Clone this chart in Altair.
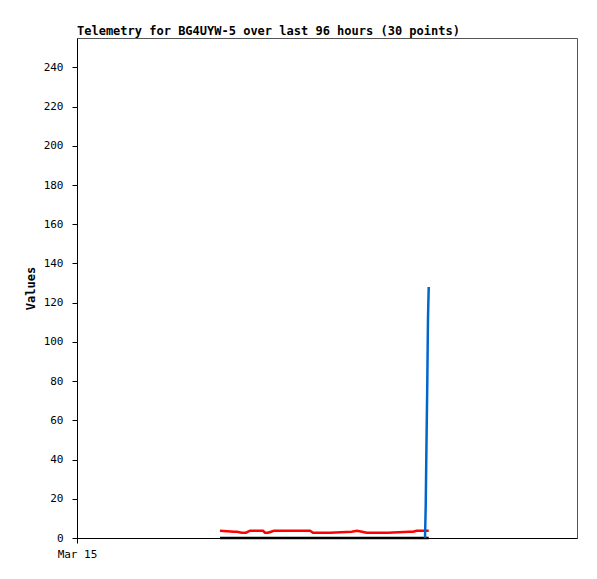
import altair as alt
import pandas as pd

# hours since Mar 15 00:00
hours = [27.46, 30.14, 30.72, 31.62, 32.45, 33.22, 35.71, 36.10, 36.67, 37.25,
         37.82, 41.28, 44.74, 45.31, 48.58, 52.74, 53.76, 54.72, 55.62, 59.71,
         63.80, 64.51, 65.22, 66.05, 66.82, 66.95, 67.10, 67.26, 67.39, 67.53]
red_vals = [3.7, 3.2, 3.2, 2.7, 2.7, 3.7, 3.7, 2.7, 2.7, 3.2,
            3.7, 3.7, 3.7, 2.7, 2.7, 3.2, 3.7, 3.2, 2.7, 2.7,
            3.2, 3.2, 3.7, 3.7, 3.7, 3.7, 3.7, 3.7, 3.7, 3.7]
black_vals = [0] * 30
blue_vals = [None] * 24 + [0, 16, 48, 80, 112, 128]

series_names = ["red", "black", "blue"]
series_colors = ["#ff0000", "#000000", "#0066cc"]
y_ticks = [0, 20, 40, 60, 80, 100, 120, 140, 160, 180, 200, 220, 240]
x_ticks = [0]
x_tick_labels = ["Mar 15"]

rows = []
for name, vals in zip(series_names, [red_vals, black_vals, blue_vals]):
    for h, v in zip(hours, vals):
        if v is not None:
            rows.append({"hour": h, "value": v, "series": name})
df = pd.DataFrame(rows)

label_expr = " : ".join(
    f"datum.value == {t} ? '{l}'" for t, l in zip(x_ticks, x_tick_labels)
) + " : ''"

font = "DejaVu Sans Mono"

base = alt.Chart(df).mark_line(strokeWidth=2.5, interpolate="linear").encode(
    x=alt.X("hour:Q", scale=alt.Scale(domain=[0, 96], nice=False, zero=False),
            axis=alt.Axis(values=x_ticks, labelExpr=label_expr, title=None,
                          grid=False, domainColor="black", tickColor="black",
                          tickSize=5, labelFont=font, labelFontSize=11,
                          labelColor="black", labelPadding=5, labelFlush=False,
                          labelAlign="center")),
    y=alt.Y("value:Q", scale=alt.Scale(domain=[0, 255], nice=False),
            axis=alt.Axis(values=y_ticks, title="Values", grid=False,
                          domainColor="black", tickColor="black", tickSize=5,
                          labelFont=font, labelFontSize=11, labelColor="black",
                          labelPadding=9, titleFont=font, titleFontSize=12,
                          titleFontWeight="bold", titleColor="black",
                          titlePadding=6)),
    color=alt.Color("series:N", scale=alt.Scale(domain=series_names, range=series_colors),
                    legend=None),
    order=alt.Order("hour:Q"),
)

layers = [base.transform_filter(alt.datum.series == s) for s in series_names]

chart = alt.layer(*layers).properties(
    width=500, height=500,
    title=alt.TitleParams("Telemetry for BG4UYW-5 over last 96 hours (30 points)",
                          anchor="start", frame="group", font=font, fontSize=12,
                          fontWeight="bold", color="black", offset=0),
    autosize=alt.AutoSizeParams(type="none"),
    padding={"left": 69, "top": 30, "right": 10, "bottom": 25},
).configure_view(stroke="#555555", strokeWidth=1)

chart.save("out.html", embed_options={"renderer": "svg", "actions": False})
